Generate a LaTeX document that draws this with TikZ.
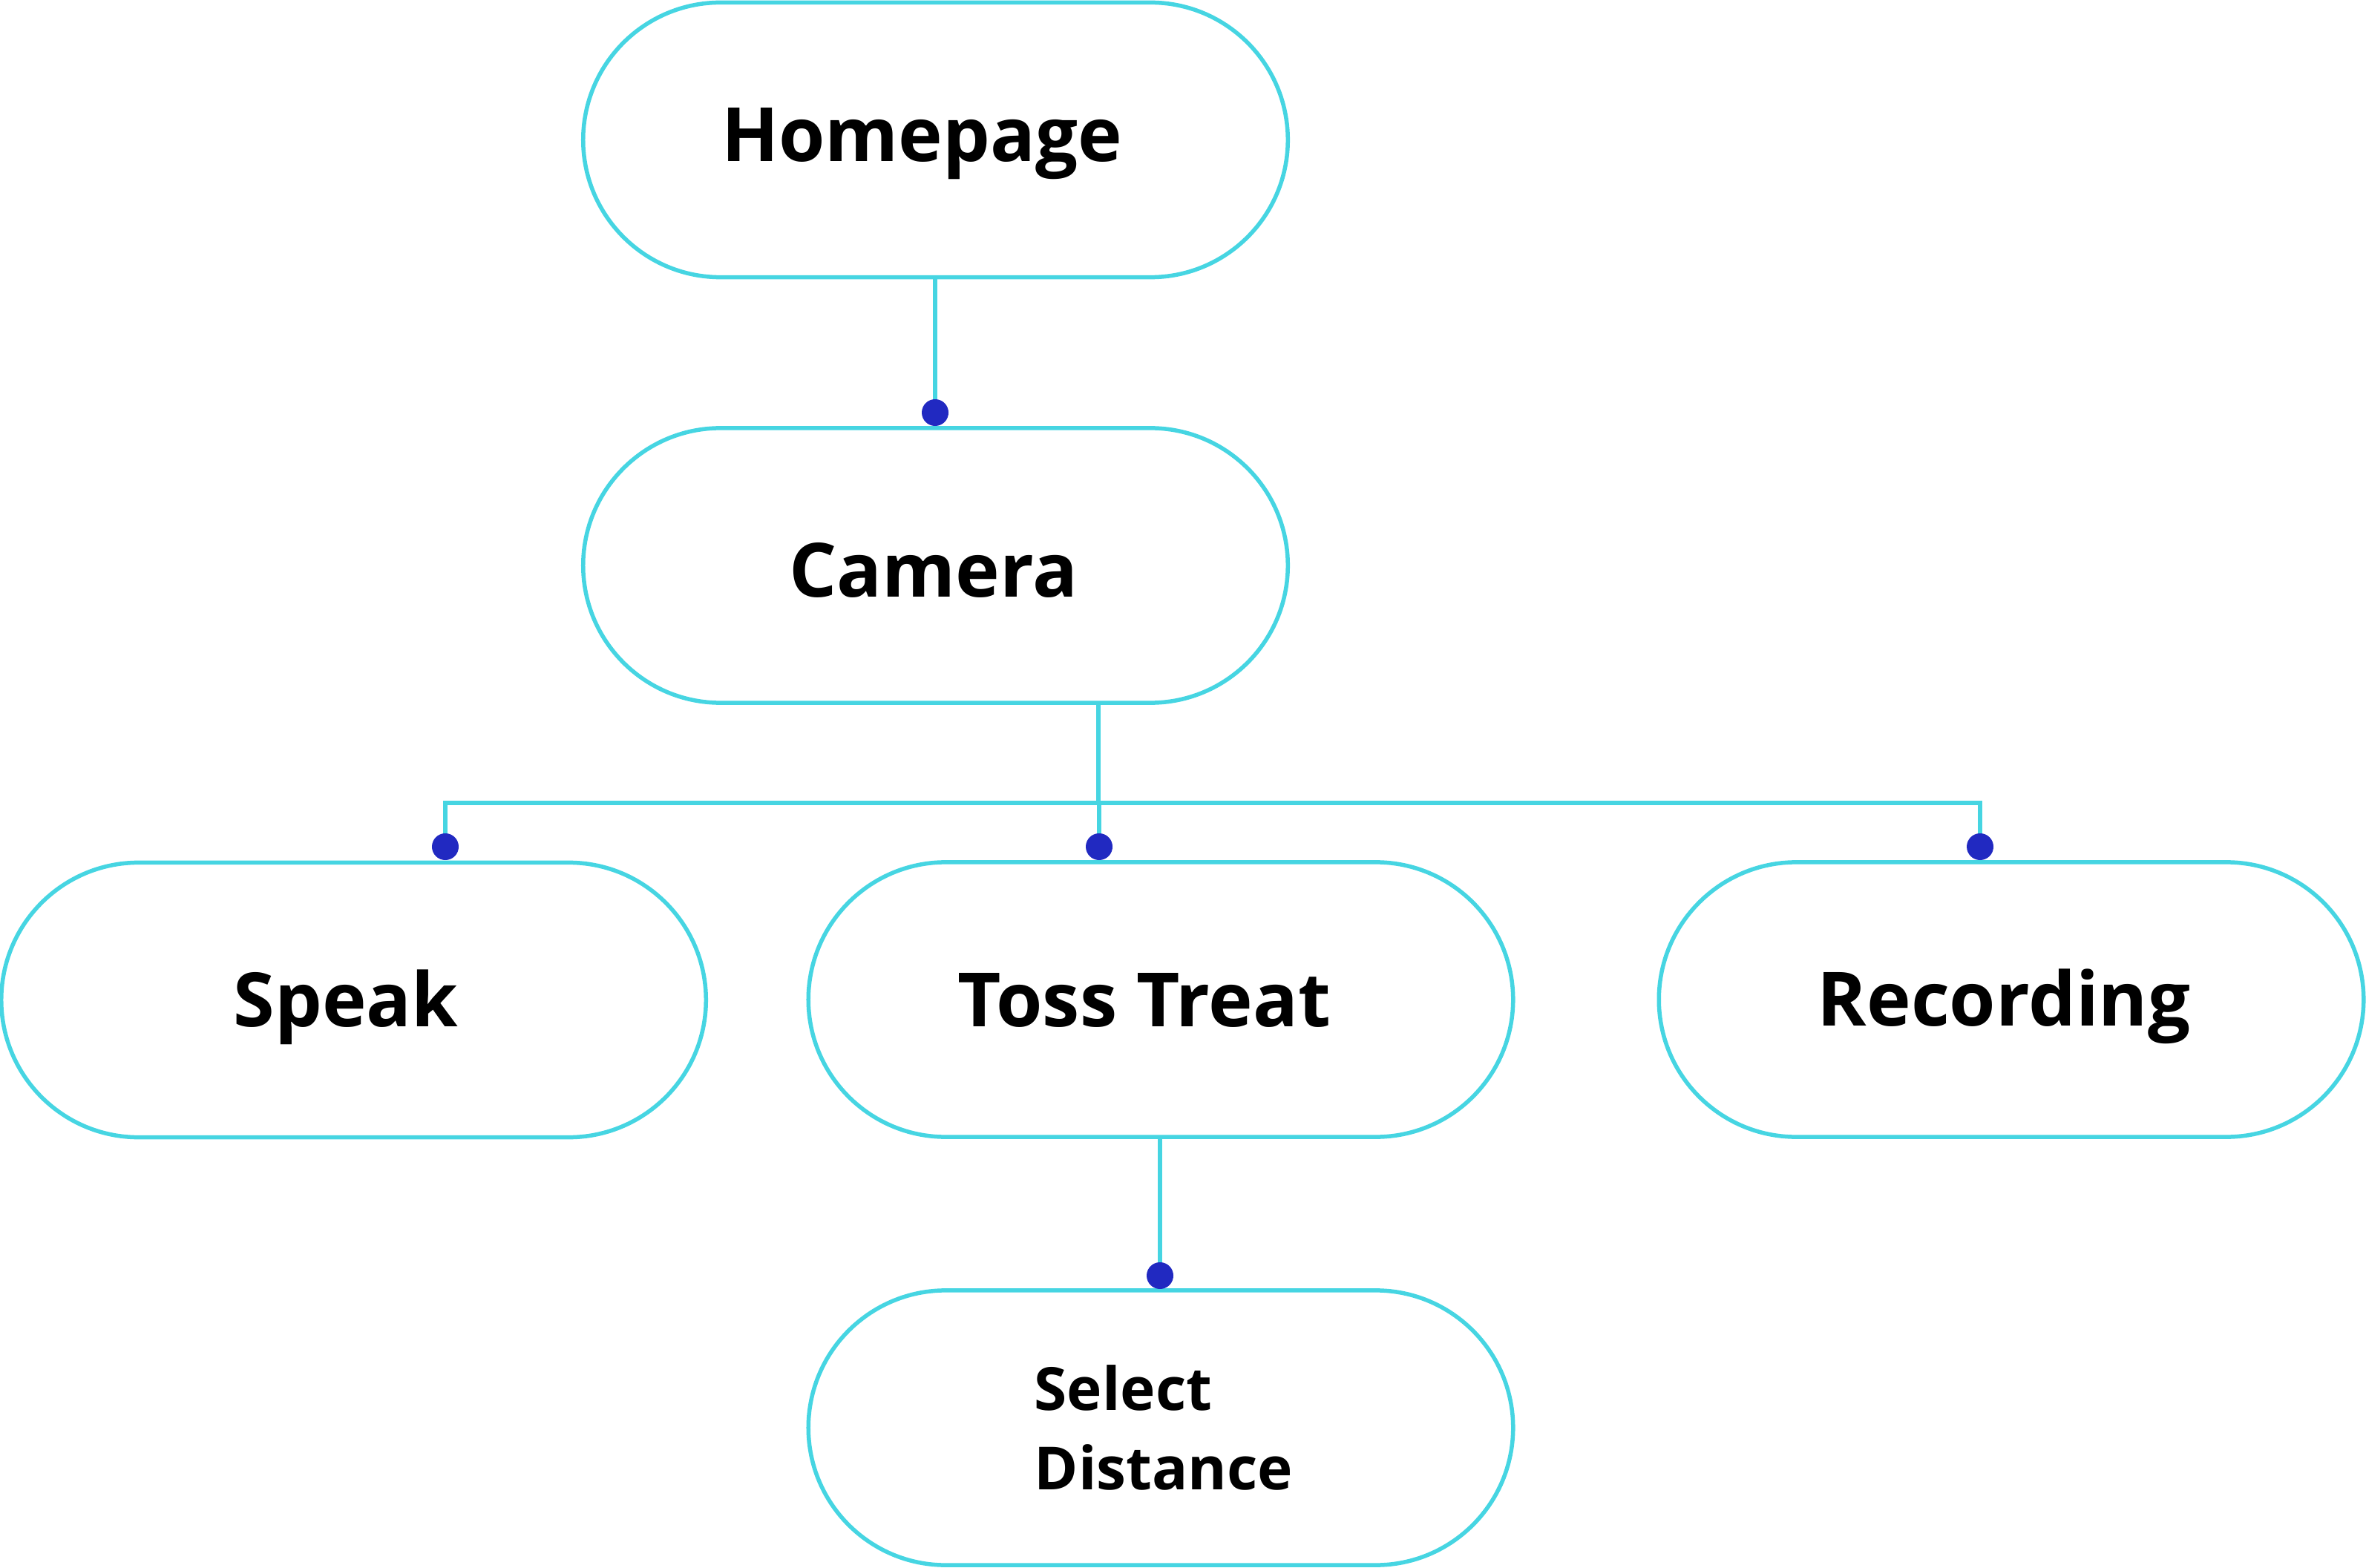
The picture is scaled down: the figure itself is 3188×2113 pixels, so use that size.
\documentclass[tikz,border=0pt]{standalone}
\usepackage{fontspec}
\setmainfont{Open Sans}
\usetikzlibrary{shapes.misc}
\definecolor{linecyan}{HTML}{46D5E2}
\definecolor{dotblue}{HTML}{2129C1}
\tikzset{
  pill/.style={rounded rectangle, draw=linecyan, line width=0.055cm, fill=white,
    minimum width=9.49cm, minimum height=3.70cm, inner sep=0pt},
  conn/.style={draw=linecyan, line width=0.055cm},
  dotnode/.style={circle, fill=dotblue, inner sep=0pt, minimum size=0.36cm},
  lbl/.style={font=\bfseries\fontsize{28.7pt}{34pt}\selectfont, inner sep=0pt, anchor=base},
  lblsmall/.style={font=\bfseries\fontsize{22.8pt}{30.4pt}\selectfont, inner sep=0pt, align=left, anchor=base west}
}
\begin{document}
\begin{tikzpicture}[x=0.01cm, y=-0.01cm]
\useasboundingbox (0,0) rectangle (3188,2113);

% boxes
\node[pill] (home) at (1260.5,188.5) {};
\node[pill] (cam) at (1260.5,762) {};
\node[pill] (speak) at (476.5,1347.5) {};
\node[pill] (toss) at (1564,1347) {};
\node[pill] (rec) at (2710,1347) {};
\node[pill] (sel) at (1564,1924) {};

% labels
\node[lbl] (thome) at (1242,218) {Homepage};
\node[lbl] (tcam) at (1258,805) {Camera};
\node[lbl] (tspeak) at (466,1383) {Speak};
\node[lbl] (ttoss) at (1542,1383) {Toss Treat};
\node[lbl] (trec) at (2700,1382) {Recording};
\node[lblsmall] (tsel) at (1393,2007) {Select\\Distance};

% connector points
\coordinate (d1) at (1260,556);
\coordinate (d2) at (600,1141);
\coordinate (d3) at (1481,1141);
\coordinate (d4) at (2668,1141);
\coordinate (d5) at (1563,1719);
\coordinate (hl) at (600,1082);
\coordinate (hr) at (2668,1082);
\coordinate (hj) at (1480,1082);

% connectors
\draw[conn] (d1 |- home.south) -- (d1);
\draw[conn] (hj |- cam.south) -- (hj);
\draw[conn] (d2) -- (hl) -- (hr) -- (d4);
\draw[conn] (d3 |- hl) -- (d3);
\draw[conn] (d5 |- toss.south) -- (d5);

% dots
\node[dotnode] (n1) at (d1) {};
\node[dotnode] (n2) at (d2) {};
\node[dotnode] (n3) at (d3) {};
\node[dotnode] (n4) at (d4) {};
\node[dotnode] (n5) at (d5) {};
\end{tikzpicture}
\end{document}
